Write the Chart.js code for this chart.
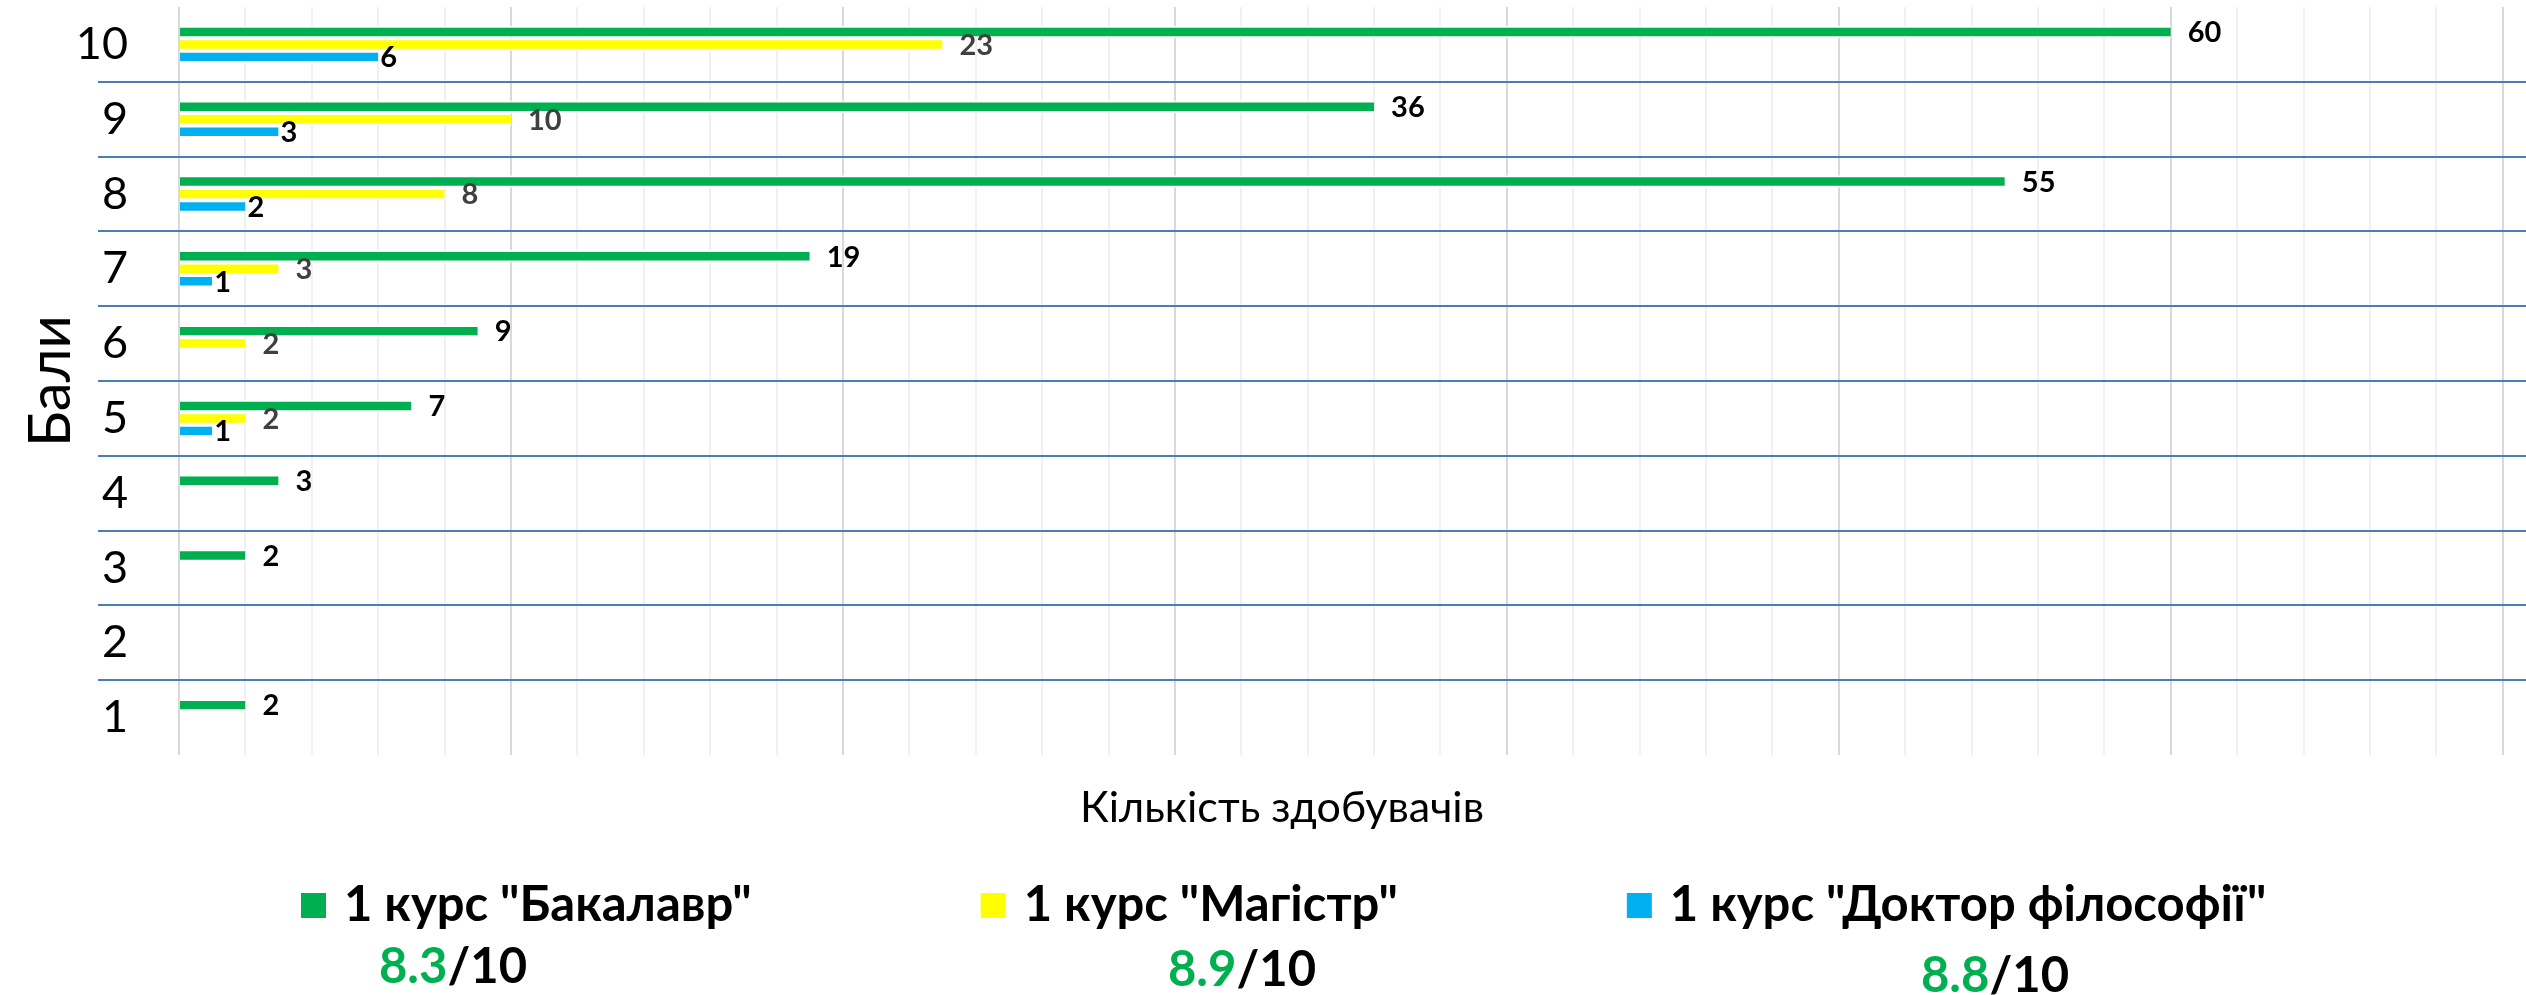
<!DOCTYPE html>
<html>
<head>
<meta charset="utf-8">
<script src="https://cdn.jsdelivr.net/npm/chart.js@4"></script>
<style>
  html, body { margin: 0; padding: 0; background: #fff; }
  #chart { display: block; }
</style>
</head>
<body>
<canvas id="chart" width="2526" height="995"></canvas>
<script>
// дані
const categories = ["10", "9", "8", "7", "6", "5", "4", "3", "2", "1"];
const bachelor = [60, 36, 55, 19, 9, 7, 3, 2, null, 2];
const master = [23, 10, 8, 3, 2, 2, null, null, null, null];
const phd = [6, 3, 2, 1, null, 1, null, null, null, null];
const seriesNames = ['1 курс "Бакалавр"', '1 курс "Магістр"', '1 курс "Доктор філософії"'];
const scores = ["8.3", "8.9", "8.8"];
const scoreOf = "/10";
const xTitle = "Кількість здобувачів";
const yTitle = "Бали";
const xMax = 70.7;
const xStep = 2;

const GREEN = "#00B050", YELLOW = "#FFFF00", BLUE = "#00B0F0";
const FONT = "Lato";

// підписи значень біля стовпчиків
const valueLabels = {
  id: "valueLabels",
  afterDatasetsDraw(chart) {
    const ctx = chart.ctx;
    const colors = ["#000", "#404040", "#000"];
    const gaps = [17, 17, 2];
    ctx.save();
    ctx.font = "bold 29px " + FONT;
    ctx.textAlign = "left";
    ctx.textBaseline = "middle";
    chart.data.datasets.forEach((ds, i) => {
      const meta = chart.getDatasetMeta(i);
      meta.data.forEach((bar, j) => {
        const v = ds.data[j];
        if (v == null) return;
        ctx.fillStyle = colors[i];
        ctx.fillText(String(v), bar.x + gaps[i], bar.y + 1);
      });
    });
    ctx.restore();
  }
};

// назва осі X та легенда з оцінками
const scoreLegend = {
  id: "scoreLegend",
  afterDraw(chart) {
    const ctx = chart.ctx;
    ctx.save();
    ctx.font = "43px " + FONT;
    ctx.fillStyle = "#000";
    ctx.textAlign = "center";
    ctx.textBaseline = "alphabetic";
    ctx.fillText(xTitle, 1282, 822);

    const scoreX = [453, 1242, 1995];
    const scoreY = [983, 986, 992];
    let x = 301;
    ctx.font = "bold 49px " + FONT;
    ctx.textAlign = "left";
    chart.data.datasets.forEach((ds, i) => {
      ctx.fillStyle = ds.backgroundColor;
      ctx.fillRect(x, 893, 25, 25);
      ctx.fillStyle = "#000";
      ctx.fillText(ds.label, x + 43, 921);
      const w = ctx.measureText(ds.label).width;

      const w1 = ctx.measureText(scores[i]).width;
      const w2 = ctx.measureText(scoreOf).width;
      const sx = scoreX[i] - (w1 + w2) / 2;
      ctx.fillStyle = GREEN;
      ctx.fillText(scores[i], sx, scoreY[i]);
      ctx.fillStyle = "#000";
      ctx.fillText(scoreOf, sx + w1, scoreY[i]);

      x += 43 + w + 229;
    });
    ctx.restore();
  }
};

new Chart(document.getElementById("chart"), {
  type: "bar",
  data: {
    labels: categories,
    datasets: [
      { label: seriesNames[0], data: bachelor, backgroundColor: GREEN },
      { label: seriesNames[1], data: master, backgroundColor: YELLOW },
      { label: seriesNames[2], data: phd, backgroundColor: BLUE }
    ]
  },
  options: {
    indexAxis: "y",
    responsive: false,
    animation: false,
    devicePixelRatio: 1,
    layout: { padding: { top: 7, right: 0, left: 0, bottom: 0 } },
    datasets: {
      bar: {
        categoryPercentage: 0.5,
        barPercentage: 1.0,
        borderColor: "#fff",
        borderWidth: { top: 2, bottom: 2, left: 0, right: 0 },
        borderSkipped: false
      }
    },
    plugins: {
      legend: { display: false },
      tooltip: { enabled: false }
    },
    scales: {
      x: {
        min: 0,
        max: xMax,
        ticks: { display: false, stepSize: xStep, includeBounds: false },
        border: { display: false },
        grid: {
          drawTicks: false,
          lineWidth: 2,
          color: c => (c.tick && c.tick.value % 10 === 0) ? "#d9d9d9" : "#f0f0f0"
        },
        afterFit: s => { s.height = 240; }
      },
      y: {
        border: { display: false },
        ticks: {
          color: "#000",
          font: { family: FONT, size: 45 },
          padding: -30,
          autoSkip: false
        },
        grid: {
          tickLength: 81,
          lineWidth: 2,
          color: c => (c.type === "tick" && c.index > 0) ? "#4a7ebb" : "rgba(0,0,0,0)"
        },
        title: {
          display: true,
          text: yTitle,
          color: "#000",
          font: { family: FONT, size: 58 },
          padding: { top: 16, bottom: 0 }
        },
        afterFit: s => { s.width = 179; }
      }
    }
  },
  plugins: [valueLabels, scoreLegend]
});
</script>
</body>
</html>
